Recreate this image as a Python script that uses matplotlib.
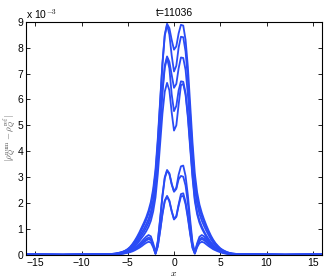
import numpy as np
import matplotlib
matplotlib.use("Agg")
import matplotlib.pyplot as plt

# grid of x positions (same for all curves)
x_core = [round(-7 + 0.25 * i, 2) for i in range(57)]
x_left_tail = [-16, -12, -9]
x_right_tail = [9, 12, 16]
x_all = x_left_tail + x_core + x_right_tail

# curve values, in units of 1e-3
T1 = [0.03,0.04,0.05,0.06,0.08,0.10,0.13,0.17,0.23,0.31,0.42,0.55,0.70,0.87,1.06,1.25,1.46,1.72,2.05,2.55,3.30,4.50,5.95,7.40,8.50,8.92,8.75,8.30,7.92,8.05,8.55,8.88,8.85,8.30,7.25,5.80,4.35,3.15,2.42,1.95,1.63,1.37,1.14,0.93,0.74,0.58,0.45,0.35,0.26,0.20,0.15,0.11,0.08,0.06,0.05,0.04,0.03]
T2 = [0.03,0.04,0.05,0.06,0.08,0.10,0.13,0.17,0.22,0.29,0.39,0.51,0.65,0.80,0.98,1.16,1.36,1.60,1.92,2.42,3.15,4.35,5.85,7.35,8.45,8.88,8.50,7.70,7.08,7.30,8.00,8.42,8.40,7.85,6.80,5.40,4.00,2.85,2.20,1.78,1.50,1.26,1.05,0.86,0.68,0.54,0.42,0.32,0.24,0.18,0.14,0.10,0.08,0.06,0.05,0.04,0.03]
T3 = [0.03,0.03,0.04,0.05,0.07,0.09,0.11,0.15,0.19,0.26,0.34,0.45,0.57,0.71,0.86,1.01,1.19,1.39,1.68,2.11,2.75,3.78,5.07,6.36,7.31,7.66,7.45,6.95,6.45,6.60,7.20,7.62,7.60,7.14,6.19,4.90,3.61,2.58,1.98,1.59,1.33,1.12,0.93,0.76,0.60,0.47,0.37,0.28,0.22,0.16,0.12,0.09,0.07,0.05,0.04,0.03,0.03]
T4 = [0.02,0.03,0.04,0.05,0.06,0.08,0.10,0.13,0.17,0.23,0.30,0.39,0.50,0.62,0.76,0.90,1.06,1.25,1.52,1.93,2.55,3.60,4.90,6.25,7.22,7.60,7.20,6.20,5.55,5.75,6.35,6.70,6.68,6.25,5.40,4.25,3.10,2.18,1.66,1.33,1.10,0.91,0.75,0.61,0.48,0.38,0.29,0.22,0.17,0.13,0.10,0.07,0.05,0.04,0.03,0.03,0.02]
T5 = [0.02,0.02,0.03,0.04,0.05,0.06,0.08,0.11,0.14,0.19,0.26,0.34,0.43,0.54,0.66,0.78,0.92,1.09,1.32,1.68,2.22,3.12,4.28,5.45,6.30,6.64,6.35,5.50,4.80,5.00,5.80,6.55,6.60,6.18,5.30,4.12,2.98,2.08,1.57,1.25,1.03,0.86,0.70,0.57,0.45,0.35,0.27,0.21,0.16,0.12,0.09,0.07,0.05,0.04,0.03,0.02,0.02]
B1 = [0.02,0.02,0.03,0.04,0.05,0.06,0.08,0.10,0.13,0.17,0.22,0.28,0.35,0.43,0.52,0.62,0.71,0.77,0.72,0.45,0.08,0.55,1.40,2.30,3.00,3.28,3.15,2.75,2.46,2.60,3.10,3.42,3.45,3.05,2.30,1.35,0.50,0.10,0.45,0.70,0.77,0.72,0.62,0.52,0.42,0.34,0.27,0.21,0.16,0.12,0.09,0.07,0.05,0.04,0.03,0.02,0.02]
B1b = [0.02,0.02,0.03,0.03,0.04,0.05,0.07,0.09,0.11,0.15,0.19,0.24,0.30,0.37,0.45,0.54,0.62,0.67,0.63,0.40,0.07,0.50,1.35,2.25,2.95,3.25,3.12,2.72,2.44,2.55,2.92,3.05,3.02,2.68,2.00,1.15,0.40,0.08,0.40,0.60,0.67,0.63,0.54,0.45,0.37,0.30,0.24,0.18,0.14,0.10,0.08,0.06,0.05,0.04,0.03,0.02,0.02]
B2 = [0.01,0.02,0.02,0.03,0.04,0.05,0.06,0.08,0.10,0.13,0.17,0.22,0.28,0.34,0.41,0.49,0.56,0.61,0.57,0.36,0.05,0.35,0.95,1.60,2.10,2.28,2.10,1.70,1.39,1.50,1.95,2.35,2.38,2.05,1.50,0.85,0.30,0.06,0.35,0.55,0.61,0.57,0.49,0.41,0.33,0.27,0.21,0.16,0.13,0.10,0.07,0.05,0.04,0.03,0.02,0.02,0.01]
B2b = [0.01,0.01,0.02,0.03,0.03,0.04,0.05,0.07,0.09,0.11,0.14,0.18,0.23,0.28,0.34,0.41,0.47,0.51,0.48,0.30,0.04,0.33,0.92,1.57,2.07,2.25,2.07,1.68,1.37,1.47,1.90,2.26,2.28,1.96,1.42,0.80,0.27,0.05,0.30,0.46,0.51,0.48,0.41,0.34,0.28,0.22,0.18,0.14,0.11,0.08,0.06,0.05,0.03,0.03,0.02,0.01,0.01]
tail_left = [0.02, 0.01, 0.02]
tail_right = [0.02, 0.01, 0.02]

curves = [T1, T2, T3, T4, T5, B1, B1b, B2, B2b]

x_ticks = [-15, -10, -5, 0, 5, 10, 15]
y_ticks = [0, 1, 2, 3, 4, 5, 6, 7, 8, 9]
title = "t=11036"

plt.rcParams["font.family"] = ["Liberation Sans", "DejaVu Sans"]
plt.rcParams["mathtext.fontset"] = "cm"

fig = plt.figure(figsize=(3.27, 2.77), dpi=100)
ax = fig.add_axes([26/327, 22/277, 296/327, 233.3/277])

color = "#2a4bf5"
for c in curves:
    assert len(c) == len(x_core)
    y = tail_left + c + tail_right
    ax.plot(x_all, y, color=color, lw=1.3, solid_joinstyle="round")

ax.set_xlim(-16, 16)
ax.set_ylim(0, 9)
ax.set_xticks(x_ticks)
ax.set_xticklabels([str(t).replace("-", "\u2212") for t in x_ticks])
ax.set_yticks(y_ticks)
ax.set_yticklabels([str(t) for t in y_ticks])
ax.tick_params(direction="in", length=3, width=0.6, top=True, right=True,
               labelsize=7.5, pad=2)
for s in ax.spines.values():
    s.set_linewidth(0.8)
ax.set_title(title, fontsize=7.5, pad=4)
ax.set_xlabel("$x$", fontsize=7, labelpad=0)
ax.text(10.5/327, 0.5, r"$|\rho_Q^{\rm num}-\rho_Q^{\rm ref}|$", transform=fig.transFigure,
        fontsize=6.5, rotation=90, ha="center", va="center", color="#555555")
ax.text(0.0, 1.005, r"x 10$^{-3}$", transform=ax.transAxes, fontsize=7.5,
        ha="left", va="bottom")

fig.savefig("out.png", dpi=100)
